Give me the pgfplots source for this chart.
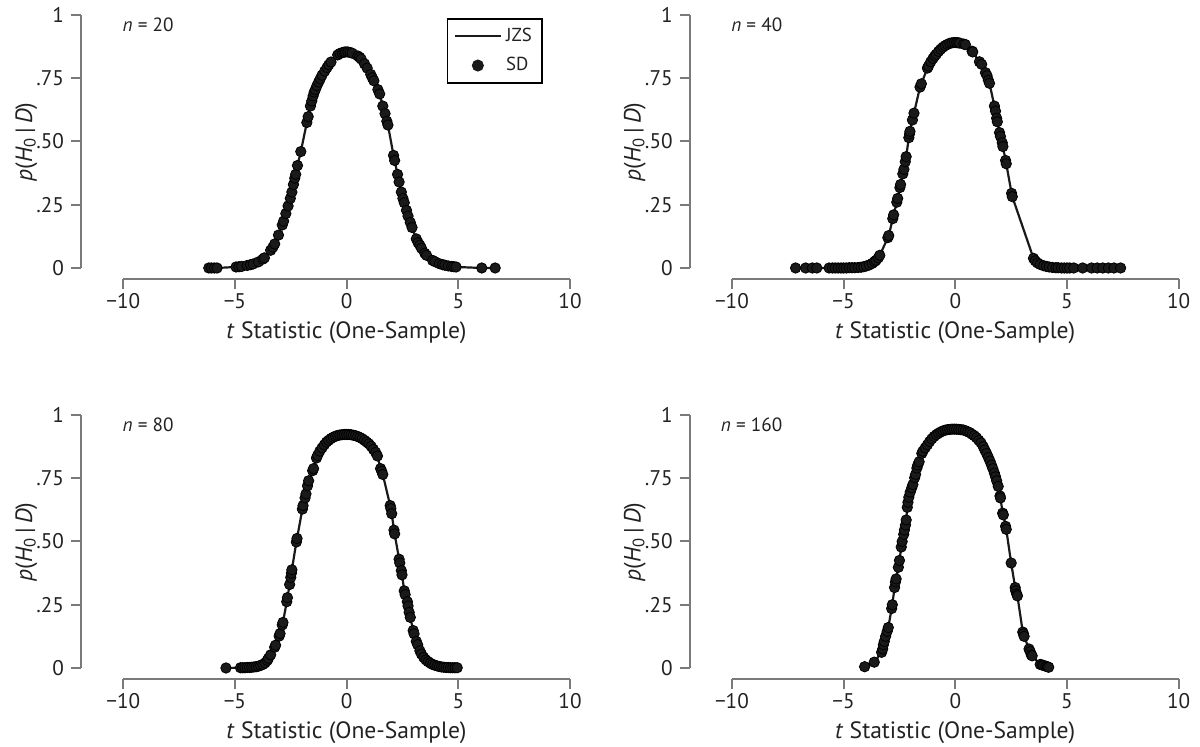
\documentclass[border=0pt]{standalone}
\usepackage{fontspec}
\setmainfont{PT Sans}
\usepackage{pgfplots}
\usepackage{pgfplotstable}
\pgfplotsset{compat=1.18}
\definecolor{ink}{HTML}{1A1A1A}
\definecolor{spine}{HTML}{7A7A7A}
\definecolor{txt}{HTML}{222222}

\pgfplotstableread{
t p
-6.17 0.000
-6.05 0.000
-5.92 0.000
-5.80 0.000
-4.95 0.004
-4.82 0.005
-4.70 0.006
-4.45 0.010
-4.30 0.013
-4.18 0.016
-3.95 0.024
-3.75 0.035
-3.68 0.040
-3.40 0.070
-3.30 0.082
-3.22 0.095
-3.05 0.130
-2.88 0.170
-2.82 0.185
-2.72 0.215
-2.62 0.245
-2.52 0.275
-2.45 0.300
-2.38 0.330
-2.32 0.355
-2.28 0.370
-2.20 0.405
-2.05 0.460
-1.78 0.575
-1.72 0.598
-1.62 0.640
-1.56 0.660
-1.50 0.680
-1.45 0.695
-1.40 0.705
-1.33 0.720
-1.25 0.735
-1.18 0.748
-1.10 0.762
-0.98 0.778
-0.88 0.792
-0.80 0.803
-0.70 0.814
-0.40 0.842
-0.30 0.848
-0.20 0.851
-0.12 0.853
-0.05 0.854
0.05 0.854
0.15 0.852
0.25 0.849
0.50 0.838
0.58 0.833
0.65 0.826
0.80 0.807
0.92 0.790
1.08 0.765
1.15 0.752
1.22 0.740
1.40 0.705
1.48 0.688
1.62 0.640
1.72 0.610
1.80 0.580
1.85 0.565
2.10 0.445
2.15 0.425
2.28 0.370
2.35 0.340
2.45 0.300
2.52 0.275
2.58 0.258
2.68 0.228
2.75 0.205
2.85 0.180
2.93 0.160
3.12 0.115
3.20 0.100
3.28 0.090
3.35 0.078
3.50 0.058
3.58 0.050
3.85 0.030
3.95 0.025
4.15 0.017
4.30 0.013
4.40 0.011
4.55 0.008
4.70 0.006
4.80 0.005
4.90 0.004
6.05 0.000
6.65 0.000
}\dataA

\pgfplotstableread{
t p
-7.15 0.000
-6.70 0.000
-6.40 0.000
-6.20 0.000
-5.65 0.000
-5.50 0.000
-5.38 0.000
-5.25 0.000
-5.12 0.000
-5.00 0.000
-4.88 0.000
-4.75 0.001
-4.62 0.001
-4.50 0.001
-4.35 0.002
-4.22 0.003
-4.10 0.005
-3.98 0.008
-3.85 0.012
-3.72 0.018
-3.62 0.025
-3.55 0.030
-3.45 0.040
-3.38 0.050
-3.02 0.120
-2.98 0.128
-2.80 0.195
-2.76 0.210
-2.62 0.260
-2.58 0.275
-2.48 0.318
-2.45 0.330
-2.35 0.372
-2.30 0.390
-2.24 0.420
-2.20 0.440
-2.08 0.515
-2.05 0.530
-2.03 0.540
-1.92 0.585
-1.85 0.612
-1.58 0.715
-1.52 0.728
-1.25 0.790
-1.20 0.798
-1.10 0.815
-1.00 0.828
-0.92 0.838
-0.85 0.845
-0.75 0.856
-0.65 0.865
-0.55 0.873
-0.45 0.879
-0.35 0.884
-0.25 0.888
-0.15 0.890
-0.05 0.891
0.05 0.891
0.12 0.890
0.20 0.889
0.38 0.885
0.45 0.883
0.75 0.857
0.78 0.854
1.08 0.815
1.18 0.805
1.35 0.772
1.42 0.760
1.48 0.742
1.53 0.730
1.75 0.640
1.80 0.620
1.85 0.592
1.88 0.578
1.98 0.535
2.02 0.520
2.10 0.495
2.13 0.480
2.25 0.425
2.28 0.412
2.52 0.295
2.55 0.282
3.50 0.038
3.58 0.028
3.68 0.020
3.80 0.014
3.95 0.009
4.08 0.006
4.20 0.004
4.35 0.002
4.50 0.001
4.60 0.001
4.75 0.000
4.88 0.000
5.00 0.000
5.12 0.000
5.30 0.000
5.70 0.000
6.10 0.000
6.35 0.000
6.60 0.000
6.85 0.000
7.10 0.000
7.40 0.000
}\dataB

\pgfplotstableread{
t p
-5.40 0.000
-4.75 0.001
-4.65 0.001
-4.55 0.001
-4.45 0.002
-4.35 0.002
-4.25 0.003
-4.15 0.004
-4.05 0.005
-3.95 0.007
-3.85 0.010
-3.75 0.014
-3.65 0.020
-3.55 0.030
-3.50 0.038
-3.40 0.052
-3.22 0.082
-3.18 0.090
-3.02 0.126
-2.98 0.136
-2.88 0.170
-2.85 0.180
-2.68 0.262
-2.65 0.278
-2.55 0.330
-2.50 0.358
-2.47 0.375
-2.45 0.388
-2.25 0.498
-2.22 0.512
-1.98 0.628
-1.95 0.642
-1.86 0.672
-1.82 0.688
-1.75 0.720
-1.70 0.740
-1.52 0.780
-1.48 0.788
-1.35 0.830
-1.30 0.840
-1.20 0.857
-1.10 0.870
-1.00 0.882
-0.90 0.893
-0.80 0.900
-0.70 0.907
-0.60 0.912
-0.50 0.916
-0.40 0.919
-0.30 0.921
-0.20 0.922
-0.10 0.923
0.00 0.923
0.10 0.923
0.20 0.922
0.30 0.920
0.40 0.918
0.50 0.915
0.60 0.911
0.70 0.906
0.80 0.900
0.90 0.893
1.00 0.886
1.10 0.876
1.20 0.864
1.30 0.852
1.38 0.838
1.52 0.788
1.57 0.778
1.62 0.765
1.95 0.642
1.98 0.630
2.02 0.610
2.12 0.545
2.15 0.530
2.35 0.430
2.38 0.415
2.45 0.385
2.48 0.368
2.58 0.305
2.62 0.290
2.72 0.262
2.75 0.245
2.80 0.220
2.85 0.200
2.98 0.148
3.02 0.135
3.12 0.105
3.18 0.092
3.28 0.068
3.35 0.055
3.45 0.042
3.55 0.032
3.65 0.025
3.75 0.019
3.85 0.014
3.95 0.011
4.05 0.008
4.15 0.006
4.25 0.004
4.35 0.003
4.45 0.002
4.55 0.002
4.65 0.001
4.75 0.001
4.85 0.001
4.95 0.001
}\dataC

\pgfplotstableread{
t p
-4.06 0.005
-3.63 0.023
-3.30 0.062
-3.25 0.075
-3.22 0.092
-3.18 0.105
-3.12 0.125
-3.05 0.145
-3.00 0.160
-2.85 0.235
-2.82 0.250
-2.72 0.318
-2.68 0.340
-2.65 0.352
-2.55 0.398
-2.50 0.425
-2.42 0.478
-2.38 0.500
-2.31 0.528
-2.28 0.545
-2.23 0.565
-2.20 0.585
-2.15 0.635
-2.12 0.655
-2.08 0.675
-2.02 0.695
-1.95 0.712
-1.90 0.725
-1.82 0.752
-1.78 0.765
-1.72 0.790
-1.68 0.802
-1.62 0.815
-1.50 0.848
-1.45 0.857
-1.35 0.870
-1.25 0.882
-1.15 0.895
-1.05 0.906
-0.95 0.915
-0.85 0.922
-0.75 0.928
-0.65 0.933
-0.55 0.937
-0.45 0.940
-0.35 0.942
-0.25 0.943
-0.15 0.944
-0.05 0.944
0.05 0.944
0.15 0.943
0.25 0.942
0.35 0.941
0.45 0.938
0.55 0.934
0.65 0.930
0.75 0.924
0.85 0.918
0.95 0.910
1.05 0.900
1.15 0.890
1.25 0.875
1.32 0.862
1.40 0.848
1.48 0.832
1.55 0.818
1.62 0.802
1.68 0.788
1.75 0.770
1.80 0.756
1.85 0.740
1.92 0.718
2.00 0.680
2.02 0.672
2.12 0.612
2.15 0.605
2.25 0.560
2.28 0.548
2.50 0.415
2.68 0.318
2.70 0.305
2.75 0.292
2.78 0.285
3.02 0.142
3.05 0.135
3.08 0.125
3.30 0.075
3.35 0.065
3.40 0.052
3.44 0.048
3.80 0.014
3.88 0.012
3.95 0.010
4.05 0.007
4.12 0.005
4.18 0.003
}\dataD

\pgfplotsset{
  panel/.style={
    scale only axis, width=244.5pt, height=132pt,
    xmin=-11.89, xmax=10, ymin=-0.0435, ymax=1,
    clip=false,
    axis line style={draw=none},
    xtick={-10,-5,0,5,10}, xticklabels={−10,−5,0,5,10},
    ytick={0,0.25,0.5,0.75,1}, yticklabels={0,.25,.50,.75,1},
    xtick pos=bottom, ytick pos=left, tick align=outside,
    major tick length=5pt,
    tick style={spine, line width=1pt},
    tick label style={font=\fontsize{10.6}{12}\selectfont, text=txt},
    xticklabel style={inner sep=2pt},
    label style={font=\fontsize{11.8}{13}\selectfont, text=txt},
    xlabel={\textit{t} Statistic (One-Sample)},
    ylabel={\textit{p}(\textit{H}\textsubscript{0}\,|\,\textit{D})},
    xlabel style={at={(axis description cs:0.543,-0.2045)}, anchor=center},
    ylabel style={at={(axis description cs:-0.112,0.519)}, anchor=center},
  },
  jzs/.style={ink, line width=1.1pt, no marks},
  sd/.style={only marks, mark=*, mark size=2.6pt, mark options={fill=ink, draw=none}},
}
\newcommand{\spines}{%
  \draw[spine, line width=1pt] (axis cs:-10,-0.0435) -- (axis cs:10,-0.0435);
  \draw[spine, line width=1pt] (axis cs:-11.89,0) -- (axis cs:-11.89,1);
}
\newcommand{\nlab}[1]{%
  \node[anchor=east, font=\fontsize{9.6}{11}\selectfont, text=txt, inner sep=0pt] at (axis cs:-7.73,0.962) {\textit{n} = #1};
}

\begin{document}
\begin{tikzpicture}
\path[use as bounding box] (0,0) rectangle (600pt,373.5pt);

\begin{axis}[panel, at={(40.5pt,234pt)}, anchor=south west,
  legend style={at={(axis description cs:0.748,0.988)}, anchor=north west,
    draw=black, line width=0.8pt, font=\fontsize{9.4}{10}\selectfont, text=txt,
    inner xsep=3pt, inner ysep=2.5pt, row sep=2.5pt, cells={anchor=west},
    /tikz/every even column/.append style={column sep=1pt}}]
\spines
\addplot[jzs, legend image code/.code={\draw[ink, line width=1.3pt] (0pt,0pt) -- (23pt,0pt);}] table {\dataA};
\addlegendentry{JZS}
\addplot[sd, legend image code/.code={\fill[ink] (11.5pt,0pt) circle (2.6pt); \path[draw=none] (0pt,0pt) -- (23pt,0pt);}] table {\dataA};
\addlegendentry{SD}
\nlab{20}
\end{axis}

\begin{axis}[panel, at={(344.85pt,234pt)}, anchor=south west]
\spines
\addplot[jzs] table {\dataB};
\addplot[sd] table {\dataB};
\nlab{40}
\end{axis}

\begin{axis}[panel, at={(40.5pt,34pt)}, anchor=south west]
\spines
\addplot[jzs] table {\dataC};
\addplot[sd] table {\dataC};
\nlab{80}
\end{axis}

\begin{axis}[panel, at={(344.85pt,34pt)}, anchor=south west]
\spines
\addplot[jzs] table {\dataD};
\addplot[sd] table {\dataD};
\nlab{160}
\end{axis}
\end{tikzpicture}
\end{document}
